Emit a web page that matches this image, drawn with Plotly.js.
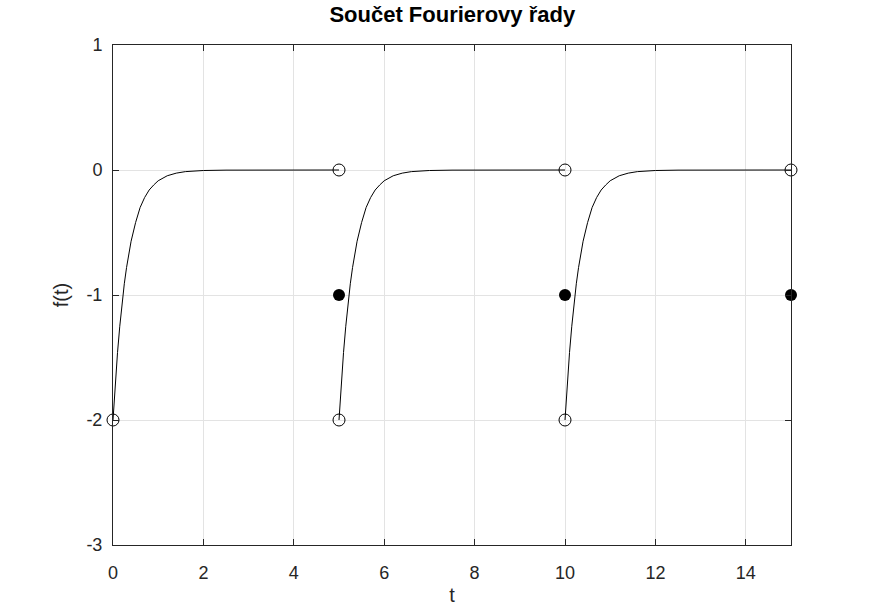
<!DOCTYPE html>
<html>
<head>
<meta charset="utf-8">
<script src="https://cdn.plot.ly/plotly-3.0.1.min.js"></script>
<style>html,body{margin:0;padding:0;background:#fff;}#chart{width:874px;height:612px;}</style>
</head>
<body>
<div id="chart"></div>
<script>
// one period of the curve, t measured from the start of each period
const tLocal = [0, 0.05, 0.1, 0.15, 0.2, 0.25, 0.3, 0.4, 0.5, 0.6, 0.7, 0.8, 0.9, 1.0, 1.2, 1.4, 1.6, 1.8, 2.0, 2.5, 3.0, 4.0, 5.0];
const fLocal = [-2, -1.71, -1.46, -1.25, -1.07, -0.91, -0.78, -0.57, -0.42, -0.30, -0.22, -0.16, -0.12, -0.086, -0.046, -0.025, -0.013, -0.007, -0.004, -0.001, 0, 0, 0];
const periodStarts = [0, 5, 10];

const openX = [0, 5, 5, 10, 10, 15];
const openY = [-2, 0, -2, 0, -2, 0];
const filledX = [5, 10, 15];
const filledY = [-1, -1, -1];

const xTicks = [0, 2, 4, 6, 8, 10, 12, 14];
const yTicks = [-3, -2, -1, 0, 1];

const lineX = [], lineY = [];
periodStarts.forEach(p => {
  tLocal.forEach((t, i) => { lineX.push(p + t); lineY.push(fLocal[i]); });
  lineX.push(null); lineY.push(null);
});

const traces = [
  {x: lineX, y: lineY, mode: 'lines', line: {color: '#000', width: 1}, connectgaps: false, hoverinfo: 'skip'},
  {x: openX, y: openY, mode: 'markers', marker: {symbol: 'circle-open', size: 12, color: '#000', line: {width: 1, color: '#000'}}, cliponaxis: false},
  {x: filledX, y: filledY, mode: 'markers', marker: {symbol: 'circle', size: 12, color: '#000'}, cliponaxis: false}
];

const FONT = 'Liberation Sans, Arial, sans-serif';
const axisCommon = {
  showgrid: true, gridcolor: '#e3e3e3', gridwidth: 1,
  zeroline: false, showline: true, linecolor: '#262626', linewidth: 1,
  mirror: 'ticks', ticks: 'inside', ticklen: 6, tickcolor: '#262626',
  tickfont: {family: FONT, size: 18, color: '#262626'}
};

const layout = {
  width: 874, height: 612,
  margin: {l: 113, r: 83, t: 45, b: 67},
  paper_bgcolor: '#fff', plot_bgcolor: '#fff',
  showlegend: false,
  title: {text: '<b>Součet Fourierovy řady</b>', x: 0.5175, xanchor: 'center', y: 0.976, yanchor: 'middle',
          font: {family: FONT, size: 22, color: '#000'}},
  xaxis: Object.assign({}, axisCommon, {range: [0, 15], tickvals: xTicks, ticktext: xTicks.map(String),
          ticklabelstandoff: 11,
          title: {text: 't', font: {family: FONT, size: 20, color: '#262626'}, standoff: 6}}),
  yaxis: Object.assign({}, axisCommon, {range: [-3, 1], tickvals: yTicks, ticktext: yTicks.map(String),
          ticklabelstandoff: 6,
          title: {text: 'f(t)', font: {family: FONT, size: 20, color: '#262626'}, standoff: 12}})
};

Plotly.newPlot('chart', traces, layout, {displayModeBar: false, staticPlot: true});
</script>
</body>
</html>
